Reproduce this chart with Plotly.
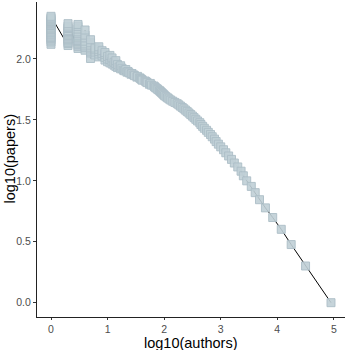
import numpy as np
import plotly.graph_objects as go

# number of papers per author (k) and number of authors with k papers
papers = [
    1, 2, 3, 4, 5, 6, 7, 8, 9, 10,
    11, 12, 13, 14, 15, 16, 17, 18, 19, 20,
    21, 22, 23, 24, 25, 26, 27, 28, 29, 30,
    31, 32, 33, 34, 35, 36, 37, 38, 39, 40,
    41, 42, 43, 44, 45, 46, 47, 48, 49, 50,
    51, 52, 53, 54, 55, 56, 57, 58, 59, 60,
    61, 62, 63, 64, 65, 66, 67, 68, 69, 70,
    71, 72, 73, 74, 75, 76, 77, 78, 79, 80,
    81, 82, 83, 84, 85, 86, 87, 88, 89, 90,
    91, 92, 93, 94, 95, 96, 97, 98, 99, 100,
    101, 102, 103, 104, 105, 106, 107, 108, 109, 110,
    111, 112, 113, 114, 115, 116, 117, 118, 119, 120,
    121, 122, 123, 124, 125, 126, 127, 128, 129, 130,
    131, 132, 133, 134, 135, 136, 137, 138, 139, 140,
    141, 142, 143, 144, 145, 146, 147, 148, 149, 150,
    151, 152, 154, 155, 156, 157, 158, 160, 161, 163,
    164, 166, 167, 168, 170, 171, 173, 175, 176, 178,
    179, 181, 183, 185, 186, 188, 190, 192, 194, 195,
    197, 200, 203, 206, 210, 214, 218, 224,
]
authors = [
    89000, 31600, 17600, 11750, 8300, 6170, 4850, 4070, 3470, 2880,
    2510, 2290, 2000, 1740, 1550, 1380, 1230, 1120, 1000, 910,
    830, 776, 708, 660, 603, 562, 513, 479, 447, 427,
    390, 363, 338, 316, 295, 275, 256, 240, 224, 209,
    195, 182, 170, 155, 142, 131, 122, 115, 108, 102,
    98, 94, 90, 86, 83, 78, 75, 71, 68, 66,
    60, 55, 57, 50, 48, 46, 41, 40, 38, 37,
    33, 34, 30, 29, 26, 27, 24, 22, 23, 20,
    19, 21, 17, 18, 15, 16, 14, 17, 13, 15,
    12, 14, 11, 13, 10, 12, 14, 9, 11, 10,
    5, 12, 9, 7, 10, 8, 11, 6, 9, 7,
    8, 5, 9, 6, 7, 5, 8, 4, 6, 7,
    5, 3, 6, 4, 5, 7, 3, 4, 2, 5,
    3, 1, 4, 2, 3, 5, 2, 1, 3, 4,
    2, 3, 1, 5, 2, 3, 1, 2, 4, 1,
    3, 2, 1, 3, 2, 4, 1, 2, 3, 1,
    2, 1, 3, 2, 1, 2, 4, 1, 3, 2,
    1, 2, 1, 3, 2, 1, 1, 3, 1, 2,
    1, 1, 1, 1, 1, 1, 1, 1,
]

x_title = "log10(authors)"
y_title = "log10(papers)"

x = np.log10(np.array(authors, dtype=float))
y = np.log10(np.array(papers, dtype=float))
order = np.argsort(x, kind="stable")
xs, ys = x[order], y[order]

x_ticks = [0, 1, 2, 3, 4, 5]
y_ticks = [0.0, 0.5, 1.0, 1.5, 2.0]

def expand(a):
    lo, hi = float(np.min(a)), float(np.max(a))
    d = (hi - lo) * 0.05
    return [lo - d, hi + d]

fig = go.Figure()
fig.add_trace(go.Scatter(
    x=xs, y=ys, mode="lines",
    line=dict(color="black", width=1),
    hoverinfo="skip", showlegend=False,
))
fig.add_trace(go.Scatter(
    x=xs, y=ys, mode="markers",
    marker=dict(symbol="square", size=8, color="rgba(192,207,214,0.9)",
                line=dict(color="rgba(172,190,199,0.9)", width=1)),
    showlegend=False,
))

font_family = "Liberation Sans, Arial, sans-serif"
axis_common = dict(
    showgrid=False, zeroline=False, showline=True, linecolor="#222222",
    linewidth=1, ticks="outside", tickwidth=1, tickcolor="#333333",
    automargin=False,
    tickfont=dict(family=font_family, size=10.5, color="#4d4d4d"),
)

fig.update_layout(
    width=350, height=350,
    margin=dict(l=37, r=5, t=2, b=33),
    paper_bgcolor="white", plot_bgcolor="white",
    xaxis=dict(range=expand(x), tickvals=x_ticks, ticktext=[str(v) for v in x_ticks],
               ticklen=2, **axis_common),
    yaxis=dict(range=expand(y), tickvals=y_ticks, ticktext=[f"{v:.1f}" for v in y_ticks],
               ticklen=3, **axis_common),
    annotations=[
        dict(text=x_title, xref="paper", yref="paper", x=0.5, y=0,
             xanchor="center", yanchor="top", yshift=-16, showarrow=False,
             font=dict(family=font_family, size=14.5, color="black")),
        dict(text=y_title, xref="paper", yref="paper", x=0, y=0.5,
             xanchor="right", yanchor="middle", xshift=-18, textangle=-90,
             showarrow=False,
             font=dict(family=font_family, size=14.5, color="black")),
    ],
)

fig.write_html("out.html", config={"displayModeBar": False},
               post_script="document.body.style.margin='0';")
